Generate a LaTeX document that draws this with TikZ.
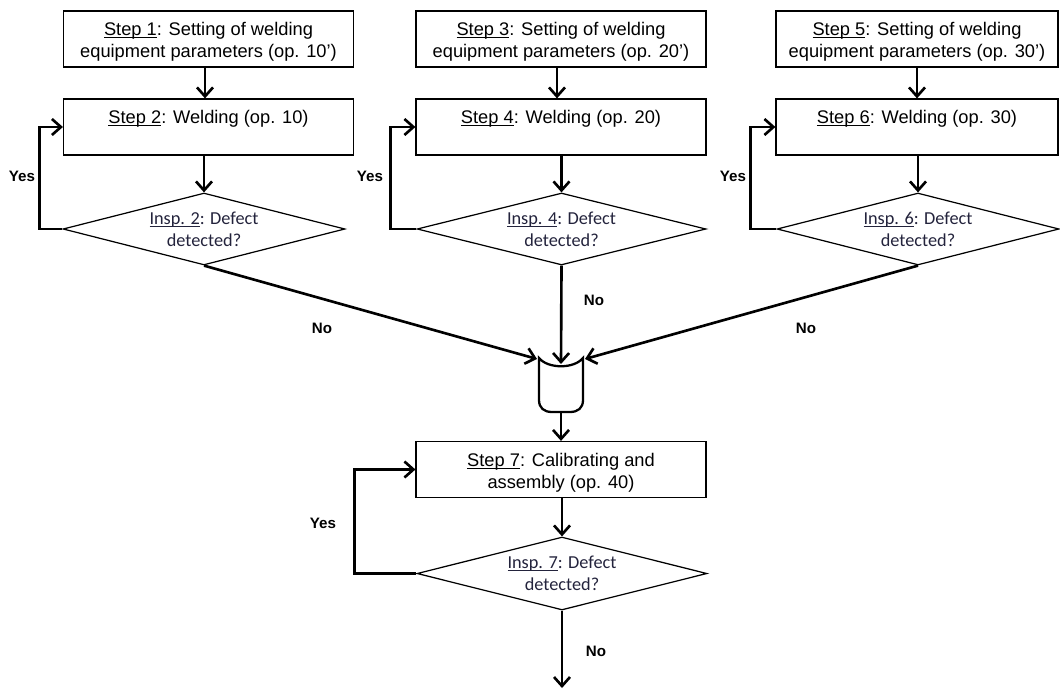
\documentclass[tikz,border=0pt]{standalone}
\usepackage{fontspec}
\setmainfont{Liberation Sans}
\newfontfamily\carl{Carlito}
\usetikzlibrary{shapes.geometric,arrows.meta}
\definecolor{insp}{RGB}{35,35,60}
\newcommand\myul[1]{\setbox0\hbox{#1}\rlap{\rule[-1.4pt]{\wd0}{0.55pt}}\box0}
\newcommand\topgap{\rule{0pt}{11pt}}
\newcommand\topgapb{\rule{0pt}{12.2pt}}
\begin{document}
\begin{tikzpicture}[x=0.02cm,y=-0.02cm,
  stepbox/.style={draw,line width=0.7pt,minimum width=5.8cm,minimum height=1.12cm,inner sep=0pt,align=center,font=\fontsize{10.4}{12.5}\selectfont},
  check/.style={draw,shape=diamond,line width=0.7pt,inner sep=0pt,aspect=3.9,minimum width=5.64cm,minimum height=1.44cm,align=center,text=insp,font=\carl\fontsize{10.4}{12.5}\selectfont},
  flow/.style={line width=1.5pt,-{Straight Barb[length=1.8mm,width=3.2mm]}},
  answer/.style={font=\bfseries\fontsize{8.6}{10}\selectfont,inner sep=0pt}
]
\useasboundingbox (0,0) rectangle (1060,689);

% column 1
\node[stepbox] (b1) at (208.5,39) {\topgap\myul{Step 1}: Setting of welding\\equipment parameters (op. 10’)};
\node[stepbox] (b2) at (208.5,127) {\topgapb\myul{Step 2}: Welding (op. 10)\\\strut};
\node[check] (d2) at (204,229) {\myul{Insp. 2}: Defect\\detected?};
% column 2
\node[stepbox] (b3) at (561,39) {\topgap\myul{Step 3}: Setting of welding\\equipment parameters (op. 20’)};
\node[stepbox] (b4) at (561,127) {\topgapb\myul{Step 4}: Welding (op. 20)\\\strut};
\node[check,minimum width=5.78cm] (d4) at (561.5,229) {\myul{Insp. 4}: Defect\\detected?};
% column 3
\node[stepbox,minimum width=5.64cm] (b5) at (917,39) {\topgap\myul{Step 5}: Setting of welding\\equipment parameters (op. 30’)};
\node[stepbox,minimum width=5.64cm] (b6) at (917,127) {\topgapb\myul{Step 6}: Welding (op. 30)\\\strut};
\node[check] (d6) at (918,229) {\myul{Insp. 6}: Defect\\detected?};

% merge shape
\node[minimum width=0.88cm,minimum height=1.08cm,inner sep=0pt] (m) at (561,385) {};
\draw[line width=1.3pt] (539,358) .. controls (548,369) and (574,369) .. (583,358)
  -- (583,400) .. controls (583,408) and (578,412) .. (570,412) -- (552,412)
  .. controls (544,412) and (539,408) .. (539,400) -- cycle;
\coordinate (ml) at (537,359);
\coordinate (mc) at (561,364);
\coordinate (mr) at (585,359);

% step 7
\node[stepbox] (b7) at (561,469.5) {\topgap\myul{Step 7}: Calibrating and\\assembly (op. 40)};
\node[check,minimum width=5.8cm,minimum height=1.46cm] (d7) at (562,573.5) {\myul{Insp. 7}: Defect\\detected?};
\coordinate (end) at (562,688);

% connectors
\draw[flow] (b1.south -| 205,0) -- (b2.north -| 205,0);
\draw[flow] (d2.north |- b2.south) -- (d2.north);
\draw[flow] (d2.west) -- ++(-23,0) |- (b2.west);
\draw[flow] (b3.south -| 557,0) -- (b4.north -| 557,0);
\draw[flow] (d4.north |- b4.south) -- (d4.north);
\draw[flow] (d4.west) -- ++(-26,0) |- (b4.west);
\draw[flow] (b5.south) -- (b6.north);
\draw[flow] (d6.north |- b6.south) -- (d6.north);
\draw[flow] (d6.west) -- ++(-26,0) |- (b6.west);

\draw[flow] (d2.south) -- (ml);
\draw[flow] (d4.south) -- (mc);
\draw[flow] (d6.south) -- (mr);
\draw[flow] (m.south) -- (b7.north -| m.south);
\draw[flow] (d7.north |- b7.south) -- (d7.north);
\draw[flow] (d7.west) -- ++(-62,0) |- (b7.west);
\draw[flow] (d7.south) -- (end);

% labels
\node[answer] (y2) at (22,176) {Yes};
\node[answer] (y4) at (370,176) {Yes};
\node[answer] (y6) at (733,176) {Yes};
\node[answer] (y7) at (323,523) {Yes};
\node[answer] (n2) at (322,328) {No};
\node[answer] (n4) at (594,300) {No};
\node[answer] (n6) at (806,328) {No};
\node[answer] (n7) at (596,651) {No};
\end{tikzpicture}
\end{document}
